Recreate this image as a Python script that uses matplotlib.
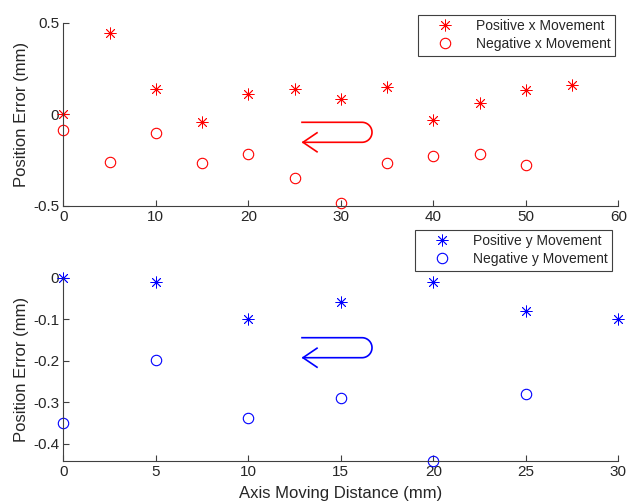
import numpy as np
import matplotlib
matplotlib.use("Agg")
import matplotlib.pyplot as plt
from matplotlib.lines import Line2D

plt.rcParams['font.family'] = ['Liberation Sans', 'DejaVu Sans']
plt.rcParams['axes.unicode_minus'] = False

# ---- data ----
x_pos_dist = [0, 5, 10, 15, 20, 25, 30, 35, 40, 45, 50, 55]
x_pos_err = [0.0, 0.446, 0.138, -0.04, 0.109, 0.138, 0.082, 0.147, -0.031, 0.06, 0.13, 0.158]
x_neg_dist = [0, 5, 10, 15, 20, 25, 30, 35, 40, 45, 50]
x_neg_err = [-0.089, -0.259, -0.10, -0.268, -0.217, -0.348, -0.487, -0.268, -0.228, -0.217, -0.277]

y_pos_dist = [0, 5, 10, 15, 20, 25, 30]
y_pos_err = [0.0, -0.01, -0.10, -0.059, -0.01, -0.08, -0.10]
y_neg_dist = [0, 5, 10, 15, 20, 25]
y_neg_err = [-0.349, -0.199, -0.338, -0.289, -0.44, -0.279]

top_xticks = [0, 10, 20, 30, 40, 50, 60]
top_yticks = [-0.5, 0, 0.5]
bot_xticks = [0, 5, 10, 15, 20, 25, 30]
bot_yticks = [-0.4, -0.3, -0.2, -0.1, 0]

W, H = 627, 503
fig = plt.figure(figsize=(W / 100, H / 100), dpi=100)
fig.patch.set_facecolor('white')

TXT = '#262626'
AX = '#404040'
STAR = (8, 2, 0)


def px_rect(l, t, r, b):
    return [l / W, 1 - b / H, (r - l) / W, (b - t) / H]


def style(ax):
    for s in ['top', 'right']:
        ax.spines[s].set_visible(False)
    for s in ['left', 'bottom']:
        ax.spines[s].set_color(AX)
        ax.spines[s].set_linewidth(0.8)
    ax.tick_params(direction='in', length=4, width=0.8, colors=AX,
                   labelcolor=TXT, labelsize=11, pad=3)


def uarrow(color, top_y, bot_y, x_left, x_right, r):
    # U-turn arrow drawn in figure pixel space (y measured from top)
    th = np.linspace(np.pi / 2, -np.pi / 2, 40)
    cy = (top_y + bot_y) / 2
    xs = [x_left, x_right] + list(x_right + r * np.cos(th)) + [x_right, x_left + 1]
    ys = [top_y, top_y] + list(cy - r * np.sin(th)) + [bot_y, bot_y]
    fig.add_artist(Line2D(np.array(xs) / W, 1 - np.array(ys) / H,
                          transform=fig.transFigure, color=color, lw=1.2))
    hx = [x_left + 15, x_left + 1, x_left + 15]
    hy = [bot_y - 9.5, bot_y, bot_y + 9.5]
    fig.add_artist(Line2D(np.array(hx) / W, 1 - np.array(hy) / H,
                          transform=fig.transFigure, color=color, lw=1.2))


def make_legend(ax, right_px, top_px):
    leg = ax.legend(loc='upper right', bbox_to_anchor=(right_px / W, 1 - top_px / H),
                    bbox_transform=fig.transFigure, fontsize=10, numpoints=1,
                    handlelength=3.3, handletextpad=0.6, borderpad=0.3,
                    labelspacing=0.3, borderaxespad=0, fancybox=False,
                    framealpha=1, edgecolor=AX)
    leg.get_frame().set_linewidth(0.8)
    for t in leg.get_texts():
        t.set_color(TXT)
    return leg


# ---- top axes ----
ax1 = fig.add_axes(px_rect(63.3, 22.7, 618.3, 205.7))
ax1.plot(x_pos_dist, x_pos_err, linestyle='none', marker=STAR, markersize=8.5,
         markeredgewidth=0.6, color='#ff0000', clip_on=False, label='Positive x Movement')
ax1.plot(x_neg_dist, x_neg_err, linestyle='none', marker='o', markersize=7.5,
         markeredgewidth=0.8, markerfacecolor='none', markeredgecolor='#ff0000',
         clip_on=False, label='Negative x Movement')
ax1.set_xlim(0, 60)
ax1.set_ylim(-0.5, 0.5)
ax1.set_xticks(top_xticks)
ax1.set_yticks(top_yticks)
ax1.set_yticklabels(['-0.5', '0', '0.5'])
ax1.set_ylabel('Position Error (mm)', fontsize=12, color=TXT, labelpad=3)
style(ax1)
make_legend(ax1, 615, 15)

# ---- bottom axes ----
ax2 = fig.add_axes(px_rect(63.3, 277.7, 618.3, 460.5))
ax2.plot(y_pos_dist, y_pos_err, linestyle='none', marker=STAR, markersize=8.5,
         markeredgewidth=0.6, color='#0000ff', clip_on=False, label='Positive y Movement')
ax2.plot(y_neg_dist, y_neg_err, linestyle='none', marker='o', markersize=7.5,
         markeredgewidth=0.8, markerfacecolor='none', markeredgecolor='#0000ff',
         clip_on=False, label='Negative y Movement')
ax2.set_xlim(0, 30)
ax2.set_ylim(-0.44, 0)
ax2.set_xticks(bot_xticks)
ax2.set_yticks(bot_yticks)
ax2.set_yticklabels(['-0.4', '-0.3', '-0.2', '-0.1', '0'])
ax2.set_ylabel('Position Error (mm)', fontsize=12, color=TXT, labelpad=3)
ax2.set_xlabel('Axis Moving Distance (mm)', fontsize=12, color=TXT, labelpad=5)
style(ax2)
make_legend(ax2, 612, 230)

# ---- U-turn arrows ----
uarrow('#ff0000', 122.3, 142.3, 302, 362, 10)
uarrow('#0000ff', 337.7, 357.7, 302, 362, 10)

fig.savefig('out.png', dpi=100)
